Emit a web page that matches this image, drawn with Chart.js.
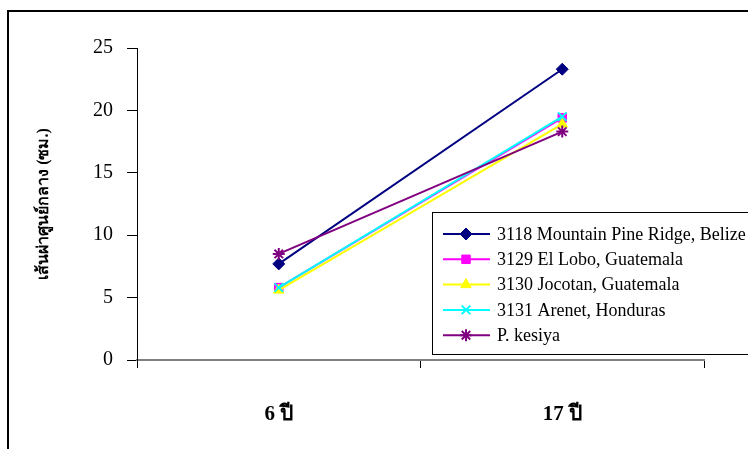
<!DOCTYPE html>
<html>
<head>
<meta charset="utf-8">
<script src="https://cdn.jsdelivr.net/npm/chart.js@4/dist/chart.umd.min.js"></script>
<style>
  body { margin: 0; background: #fff; overflow: hidden; }
  #wrap { position: relative; width: 748px; height: 449px; }
  #frame { position: absolute; left: 7px; top: 10px; width: 760px; height: 460px; border: 2px solid #000; }
  canvas { position: absolute; left: 0; top: 0; }
</style>
</head>
<body>
<div id="wrap">
  <div id="frame"></div>
  <canvas id="myChart" width="748" height="449"></canvas>
</div>
<script>
const ageLabels = ['6 ปี', '17 ปี']
const seriesNames = ['3118 Mountain Pine Ridge, Belize', '3129 El Lobo, Guatemala', '3130 Jocotan, Guatemala', '3131 Arenet, Honduras', 'P. kesiya']
const belize = [7.7, 23.3]
const elLobo = [5.8, 19.4]
const jocotan = [5.6, 18.9]
const arenet = [5.8, 19.5]
const kesiya = [8.5, 18.3]
const yTicks = [0, 5, 10, 15, 20, 25]

const serif = "'Liberation Serif', 'Times New Roman', serif"

const styles = [
  { color: '#000080', point: 'rectRot', radius: 6, fill: true },
  { color: '#ff00ff', point: 'rect', radius: 6, fill: true },
  { color: '#ffff00', point: 'triangle', radius: 6, fill: true },
  { color: '#00ffff', point: 'crossRot', radius: 6, fill: false },
  { color: '#800080', point: 'star', radius: 6, fill: false }
]
const values = [belize, elLobo, jocotan, arenet, kesiya]

const datasets = values.map((v, i) => ({
  label: seriesNames[i],
  data: v,
  borderColor: styles[i].color,
  backgroundColor: styles[i].color,
  borderWidth: 2,
  pointStyle: styles[i].point,
  pointRadius: styles[i].radius,
  pointBorderWidth: styles[i].fill ? 1 : 2,
  pointBorderColor: styles[i].color,
  pointBackgroundColor: styles[i].color,
  order: values.length - i,
  tension: 0
}))

// legend box drawn by hand, it sits over the plot and runs off the right edge
const boxLegend = {
  id: 'boxLegend',
  afterDraw(chart) {
    const ctx = chart.ctx
    ctx.save()
    ctx.fillStyle = '#fff'
    ctx.fillRect(432, 212, 330, 142)
    ctx.strokeStyle = '#000'
    ctx.lineWidth = 1
    ctx.strokeRect(432.5, 212.5, 330, 142)
    ctx.font = '18px ' + serif
    ctx.textBaseline = 'middle'
    datasets.forEach((ds, i) => {
      const y = 234 + i * 25.3
      ctx.strokeStyle = ds.borderColor
      ctx.lineWidth = 2
      ctx.beginPath()
      ctx.moveTo(443, y)
      ctx.lineTo(490, y)
      ctx.stroke()
      ctx.fillStyle = ds.backgroundColor
      ctx.lineWidth = ds.pointBorderWidth
      if (Chart.helpers && Chart.helpers.drawPoint) {
        Chart.helpers.drawPoint(ctx, { pointStyle: ds.pointStyle, radius: ds.pointRadius, borderWidth: ds.pointBorderWidth, rotation: 0 }, 466, y)
      }
      ctx.fillStyle = '#000'
      ctx.fillText(ds.label, 497, y + 1)
    })
    ctx.restore()
  }
}

const chart = new Chart(document.getElementById('myChart').getContext('2d'), {
  type: 'line',
  data: { labels: ageLabels, datasets: datasets },
  options: {
    responsive: false,
    animation: false,
    layout: { padding: { top: 48, right: 44, left: 0, bottom: 0 } },
    plugins: { legend: { display: false }, tooltip: { enabled: false } },
    scales: {
      x: {
        offset: true,
        afterFit: s => { s.height = 89 },
        grid: { offset: true, drawOnChartArea: false, drawTicks: true, tickLength: 8, color: '#000', lineWidth: 1 },
        border: { color: '#808080', width: 2 },
        ticks: { color: '#000', padding: 34, font: { family: serif, size: 21, weight: 'bold' } }
      },
      y: {
        min: 0,
        max: 25,
        afterFit: s => { s.width = 137 },
        afterBuildTicks: s => { s.ticks = yTicks.map(v => ({ value: v })) },
        grid: { drawOnChartArea: false, drawTicks: true, tickLength: 10, color: '#000', lineWidth: 1 },
        border: { color: '#000', width: 1 },
        ticks: { color: '#000', padding: 14, font: { family: serif, size: 20 } },
        title: {
          display: true,
          text: 'เส้นผ่าศูนย์กลาง (ซม.)',
          color: '#000',
          padding: { top: 34, bottom: 0 },
          font: { family: serif, size: 16, weight: 'bold' }
        }
      }
    }
  },
  plugins: [boxLegend]
})
</script>
</body>
</html>
